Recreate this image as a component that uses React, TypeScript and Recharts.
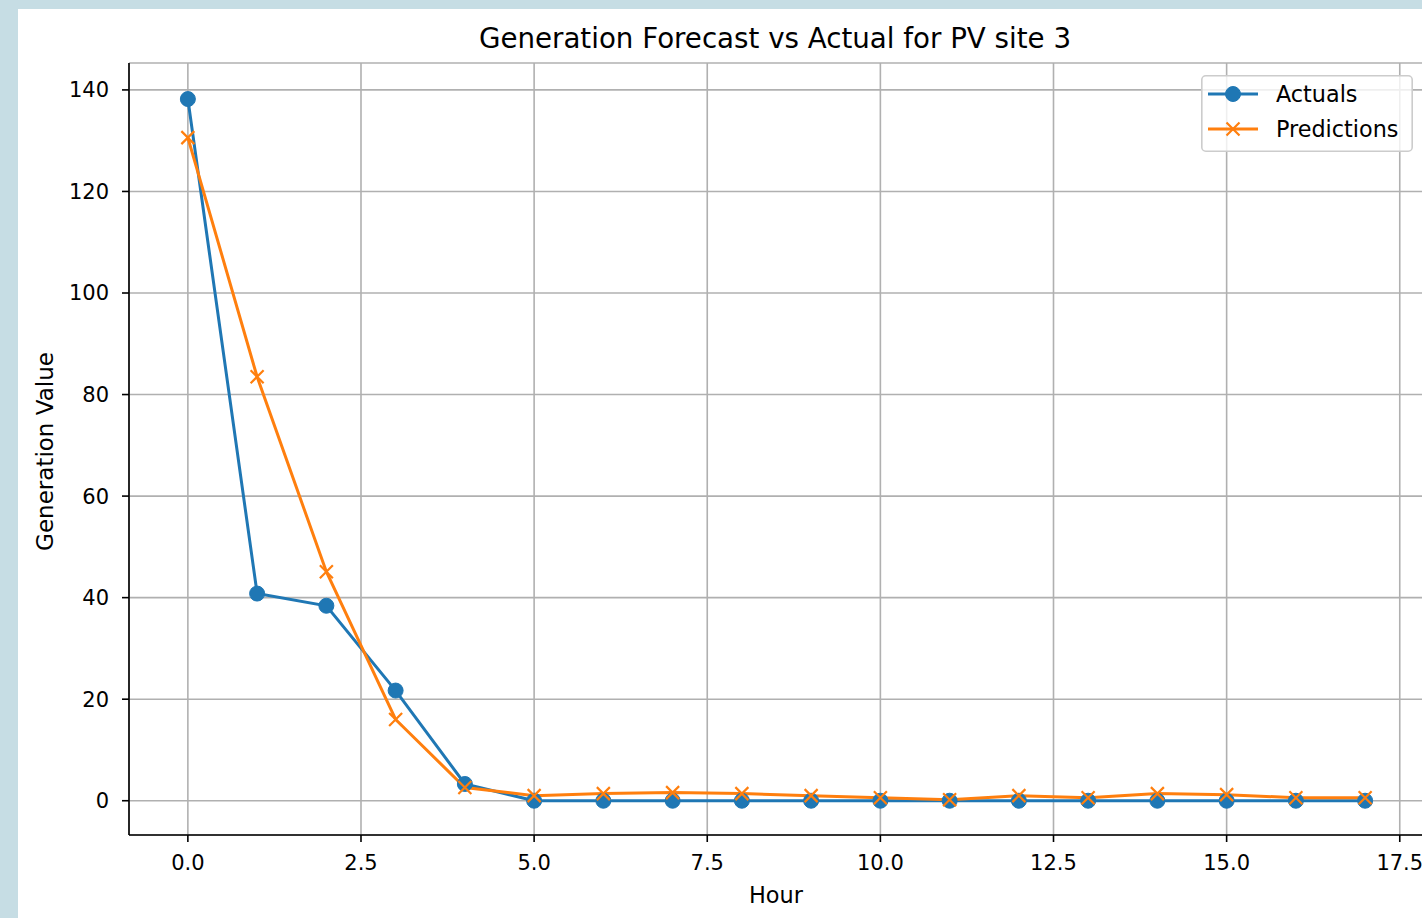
import React from 'react';
import { LineChart, Line, XAxis, YAxis, CartesianGrid, Legend } from 'recharts';

// values
const hours = [0, 1, 2, 3, 4, 5, 6, 7, 8, 9, 10, 11, 12, 13, 14, 15, 16, 17];
const actuals = [138.2, 40.8, 38.4, 21.7, 3.3, 0, 0, 0, 0, 0, 0, 0, 0, 0, 0, 0, 0, 0];
const predictions = [130.6, 83.5, 45.1, 16.0, 2.6, 1.0, 1.4, 1.6, 1.4, 1.0, 0.6, 0.2, 1.0, 0.6, 1.4, 1.2, 0.6, 0.6];
const xTicks = [0, 2.5, 5, 7.5, 10, 12.5, 15, 17.5];
const yTicks = [0, 20, 40, 60, 80, 100, 120, 140];
const seriesNames = ['Actuals', 'Predictions'];

const BLUE = '#1f77b4';
const ORANGE = '#ff7f0e';
const FONT = '"DejaVu Sans", sans-serif';

const xDomain = [-0.85, 17.85];
const yDomain = [-6.75, 145.3];

const data = hours.map((h, i) => ({ hour: h, actual: actuals[i], pred: predictions[i] }));

const XDot = (props: any) => {
  const { cx, cy, index } = props;
  if (cx == null || cy == null) return <g key={`xd-${index}`} />;
  const s = 6.5;
  return (
    <path
      key={`xd-${index}`}
      d={`M${cx - s},${cy - s}L${cx + s},${cy + s}M${cx - s},${cy + s}L${cx + s},${cy - s}`}
      stroke={ORANGE}
      strokeWidth={2.2}
      fill="none"
    />
  );
};

const LegendBox = () => (
  <svg width={212} height={77} style={{ display: 'block', fontFamily: FONT }}>
    <rect x={0.8} y={0.8} width={210.4} height={75.4} rx={4} fill="rgba(255,255,255,0.8)" stroke="#cccccc" strokeWidth={1.6} />
    {seriesNames.map((name, i) => {
      const cy = 19 + i * 35;
      return (
        <g key={name}>
          <line x1={7} x2={57} y1={cy} y2={cy} stroke={i === 0 ? BLUE : ORANGE} strokeWidth={3} />
          {i === 0 ? (
            <circle cx={32} cy={cy} r={7.5} fill={BLUE} stroke={BLUE} strokeWidth={1} />
          ) : (
            <path d={`M25.5,${cy - 6.5}L38.5,${cy + 6.5}M25.5,${cy + 6.5}L38.5,${cy - 6.5}`} stroke={ORANGE} strokeWidth={2.2} fill="none" />
          )}
          <text x={75} y={cy + 8} fontSize={22.3} fill="#000">
            {name}
          </text>
        </g>
      );
    })}
  </svg>
);

const axisStroke = { stroke: '#000', strokeWidth: 1.6 };
const tickStyle = { fill: '#000', fontSize: 21, fontFamily: FONT };

export default function App() {
  return (
    <div style={{ position: 'fixed', left: 0, top: 0, width: 1422, height: 918, overflow: 'hidden', background: '#c6dde4' }}>
      <div style={{ position: 'absolute', left: 18, top: 9, right: 0, bottom: 0, background: '#ffffff' }} />
      <div style={{ position: 'absolute', left: 0, top: 0 }}>
        <LineChart width={1440} height={918} data={data} margin={{ top: 63, right: 16, bottom: 23, left: 0 }}>
          <CartesianGrid stroke="#b0b0b0" strokeWidth={1.6} />
          <XAxis
            dataKey="hour"
            type="number"
            domain={xDomain}
            allowDataOverflow
            ticks={xTicks}
            interval={0}
            tickFormatter={(v: number) => v.toFixed(1)}
            height={60}
            tickSize={7}
            tickMargin={13}
            axisLine={axisStroke}
            tickLine={axisStroke}
            tick={tickStyle}
          />
          <XAxis
            xAxisId="top"
            orientation="top"
            type="number"
            domain={xDomain}
            allowDataOverflow
            height={0}
            tick={false}
            tickLine={false}
            axisLine={axisStroke}
          />
          <YAxis
            type="number"
            domain={yDomain}
            allowDataOverflow
            ticks={yTicks}
            interval={0}
            width={129}
            tickSize={7}
            tickMargin={13}
            axisLine={axisStroke}
            tickLine={axisStroke}
            tick={tickStyle}
          />
          <Legend
            layout="vertical"
            align="center"
            verticalAlign="middle"
            content={() => <LegendBox />}
            wrapperStyle={{ left: 1201, top: 75, width: 212, height: 77 }}
          />
          <Line
            dataKey="actual"
            name="Actuals"
            stroke={BLUE}
            strokeWidth={3}
            dot={{ r: 7.5, fill: BLUE, stroke: BLUE, strokeWidth: 1 }}
            activeDot={false}
            isAnimationActive={false}
          />
          <Line
            dataKey="pred"
            name="Predictions"
            stroke={ORANGE}
            strokeWidth={3}
            dot={XDot}
            activeDot={false}
            isAnimationActive={false}
          />
        </LineChart>
      </div>
      <svg width={1422} height={918} style={{ position: 'absolute', left: 0, top: 0, pointerEvents: 'none', fontFamily: FONT }}>
        <text x={775} y={48} textAnchor="middle" fontSize={27.7} fill="#000">
          Generation Forecast vs Actual for PV site 3
        </text>
        <text x={776} y={903} textAnchor="middle" fontSize={22.4} fill="#000">
          Hour
        </text>
        <text x={53} y={451.5} textAnchor="middle" fontSize={23} fill="#000" transform="rotate(-90 53 451.5)">
          Generation Value
        </text>
      </svg>
    </div>
  );
}
